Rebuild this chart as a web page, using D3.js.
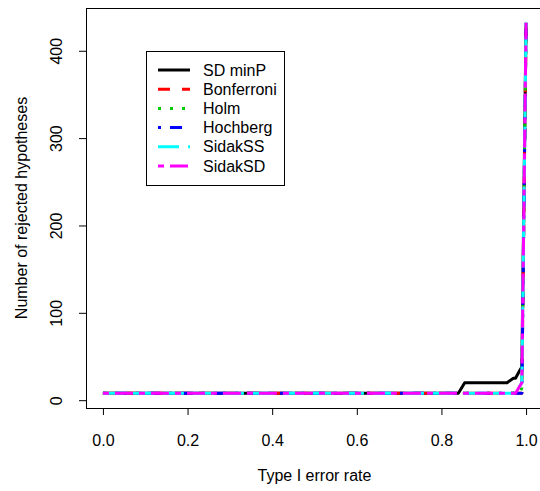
<!DOCTYPE html>
<html lang="en">
<head>
  <meta charset="UTF-8">
  <title>Rejected hypotheses vs Type I error rate</title>
  <script src="https://d3js.org/d3.v7.min.js"></script>
  <style>
    body { margin: 0; background: white; }
    svg { display: block; font-family: "Liberation Sans", Arial, sans-serif; }
  </style>
</head>
<body>
  <svg width="540" height="491"></svg>
  <script>
    // series (type I error rate -> number rejected)
    const seriesNames = ["SD minP", "Bonferroni", "Holm", "Hochberg", "SidakSS", "SidakSD"];

    const alphaMinP = [0, 0.84, 0.855, 0.955, 0.97, 0.975, 0.985, 0.99, 1];
    const rejMinP   = [8, 8, 20, 20, 25, 25, 34, 38, 432];

    const alphaBonf = [0, 0.99, 1];
    const rejBonf   = [8, 8, 432];

    const alphaHolm = [0, 0.985, 0.99, 1];
    const rejHolm   = [8, 8, 14, 432];

    const alphaHoch = [0, 0.99, 1];
    const rejHoch   = [8, 8, 432];

    const alphaSidakSS = [0, 0.975, 0.99, 1];
    const rejSidakSS   = [8, 8, 20, 432];

    const alphaSidakSD = [0, 0.975, 0.99, 1];
    const rejSidakSD   = [8, 8, 20, 432];

    const xTicks = [0, 0.2, 0.4, 0.6, 0.8, 1.0];
    const yTicks = [0, 100, 200, 300, 400];

    // styles (R palette + lty 1..6 at lwd 3)
    const colors = ["#000000", "#FF0000", "#00CD00", "#0000FF", "#00FFFF", "#FF00FF"];
    const dashes = [null, "12,12", "3,9", "3,9,12,9", "21,9", "6,6,18,6"];

    const series = [
      [alphaMinP, rejMinP], [alphaBonf, rejBonf], [alphaHolm, rejHolm],
      [alphaHoch, rejHoch], [alphaSidakSS, rejSidakSS], [alphaSidakSD, rejSidakSD]
    ].map(([xs, ys], i) => ({ name: seriesNames[i], pts: xs.map((a, j) => [a, ys[j]]) }));

    const svg = d3.select("svg");
    const fontSize = 16;

    // R style 4% padding around data range
    const allX = series.flatMap(s => s.pts.map(p => p[0]));
    const allY = series.flatMap(s => s.pts.map(p => p[1]));
    const [x0, x1] = d3.extent(allX);
    const [y0, y1] = d3.extent(allY);
    const px = 0.04 * (x1 - x0), py = 0.04 * (y1 - y0);

    const plotL = 86, plotR = 543, plotT = 8, plotB = 408;

    const x = d3.scaleLinear().domain([x0 - px, x1 + px]).range([plotL, plotR]);
    const y = d3.scaleLinear().domain([y0 - py, y1 + py]).range([plotB, plotT]);

    // x axis
    const gx = svg.append("g")
      .attr("transform", `translate(0,${plotB})`)
      .call(d3.axisBottom(x).tickValues(xTicks).tickFormat(d3.format(".1f")).tickSize(7));
    gx.select(".domain").remove();
    gx.selectAll("text").attr("y", 38).attr("dy", null)
      .attr("font-size", fontSize).attr("font-family", null).attr("fill", "black");

    // y axis, labels rotated like R (las = 0)
    const gy = svg.append("g")
      .attr("transform", `translate(${plotL},0)`)
      .call(d3.axisLeft(y).tickValues(yTicks).tickSize(7));
    gy.select(".domain").remove();
    gy.selectAll("text")
      .attr("transform", "rotate(-90)")
      .attr("x", 0).attr("y", -24).attr("dy", null)
      .attr("text-anchor", "middle")
      .attr("font-size", fontSize).attr("font-family", null).attr("fill", "black");

    // lines
    const line = d3.line().x(d => x(d[0])).y(d => y(d[1]));
    svg.append("g").selectAll("path")
      .data(series)
      .join("path")
      .attr("d", d => line(d.pts))
      .attr("fill", "none")
      .attr("stroke", (d, i) => colors[i])
      .attr("stroke-width", 3)
      .attr("stroke-dasharray", (d, i) => dashes[i])
      .attr("stroke-linecap", "butt")
      .attr("stroke-linejoin", "round");

    // plot box
    svg.append("rect")
      .attr("x", plotL + 0.5).attr("y", plotT + 0.5)
      .attr("width", plotR - plotL).attr("height", plotB - plotT)
      .attr("fill", "none").attr("stroke", "black");

    // axis titles
    svg.append("text")
      .attr("x", (plotL + plotR) / 2).attr("y", 481)
      .attr("text-anchor", "middle").attr("font-size", fontSize)
      .text("Type I error rate");

    svg.append("text")
      .attr("transform", `translate(27,${(plotT + plotB) / 2}) rotate(-90)`)
      .attr("text-anchor", "middle").attr("font-size", fontSize)
      .text("Number of rejected hypotheses");

    // legend
    const legend = svg.append("g");
    legend.append("rect")
      .attr("x", 146.5).attr("y", 51.5).attr("width", 138).attr("height", 134)
      .attr("fill", "white").attr("stroke", "black");

    const rows = legend.selectAll("g.row")
      .data(series)
      .join("g")
      .attr("class", "row")
      .attr("transform", (d, i) => `translate(0,${70 + i * 19.2})`);

    rows.append("line")
      .attr("x1", 158).attr("x2", 190)
      .attr("stroke", (d, i) => colors[i])
      .attr("stroke-width", 3)
      .attr("stroke-dasharray", (d, i) => dashes[i]);

    rows.append("text")
      .attr("x", 203).attr("y", 5.5)
      .attr("font-size", fontSize)
      .text(d => d.name);
  </script>
</body>
</html>
